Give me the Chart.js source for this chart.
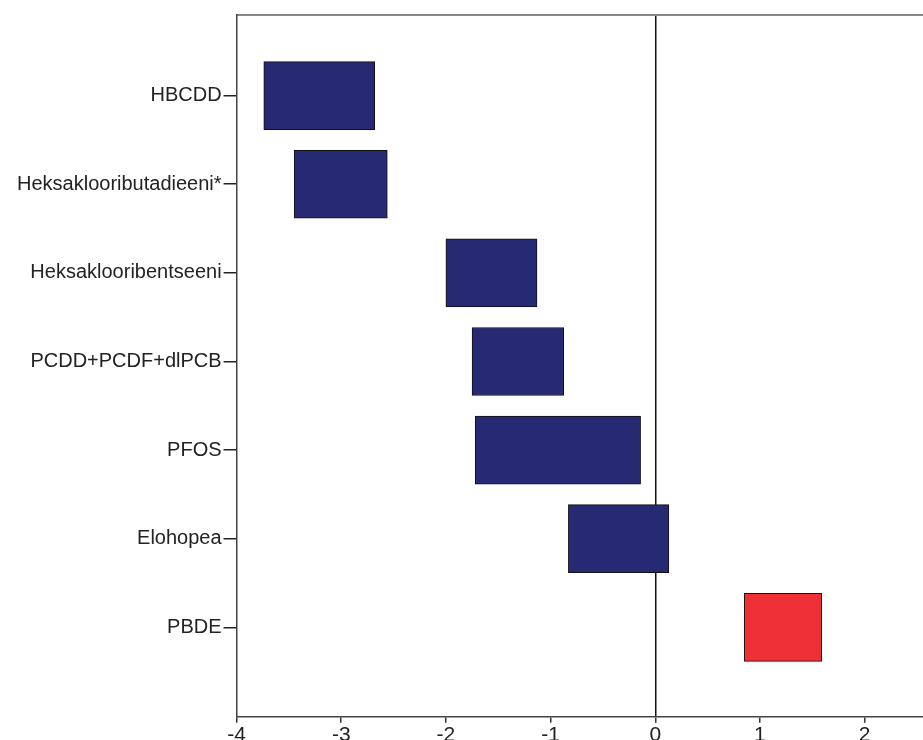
<!DOCTYPE html>
<html>
<head>
<meta charset="utf-8">
<script src="https://cdn.jsdelivr.net/npm/chart.js@4"></script>
<style>
  html, body { margin: 0; padding: 0; background: #fff; overflow: hidden; }
  #wrap { position: relative; width: 923px; height: 748px; }
</style>
</head>
<body>
<div id="wrap"><canvas id="chart"></canvas></div>
<script>
// data
const categories = ['HBCDD', 'Heksaklooributadieeni*', 'Heksaklooribentseeni', 'PCDD+PCDF+dlPCB', 'PFOS', 'Elohopea', 'PBDE'];
const lows  = [-3.74, -3.45, -2.00, -1.75, -1.72, -0.83, 0.85];
const highs = [-2.68, -2.56, -1.13, -0.875, -0.14, 0.13, 1.59];
const xTicks = [-4, -3, -2, -1, 0, 1, 2];

const navy = '#262a72';
const red = '#ee3036';

const points = categories.map((c, i) => ({ x: [lows[i], highs[i]], y: i }));

const ctx = document.getElementById('chart');
new Chart(ctx, {
    type: 'bar',
    data: {
        datasets: [{
            data: points,
            backgroundColor: c => lows[c.dataIndex] > 0 ? red : navy,
            borderColor: '#111',
            borderWidth: 1,
            borderSkipped: false,
            barThickness: 68
        }]
    },
    options: {
        indexAxis: 'y',
        responsive: true,
        maintainAspectRatio: false,
        animation: false,
        layout: { padding: { left: 15, top: 7, right: 0, bottom: 0 } },
        plugins: { legend: { display: false }, tooltip: { enabled: false } },
        scales: {
            x: {
                type: 'linear',
                min: -4,
                max: 2.558,
                afterBuildTicks: s => { s.ticks = xTicks.map(v => ({ value: v })); },
                grid: {
                    color: c => (c.tick && c.tick.value === 0) ? '#111' : 'rgba(0,0,0,0)',
                    tickColor: '#333',
                    tickLength: 6,
                    lineWidth: 1.5
                },
                border: { display: true, color: '#444', width: 1.5 },
                ticks: {
                    color: '#222',
                    padding: 0,
                    maxRotation: 0,
                    font: { family: "'Liberation Sans', Arial, sans-serif", size: 21 }
                }
            },
            xTop: {
                type: 'linear',
                position: 'top',
                min: -4,
                max: 2.558,
                grid: { display: false },
                ticks: { display: false },
                border: { display: true, color: '#888', width: 2 }
            },
            y: {
                type: 'linear',
                reverse: true,
                offset: false,
                min: -0.91,
                max: 7.01,
                afterBuildTicks: s => { s.ticks = categories.map((c, i) => ({ value: i })); },
                grid: {
                    offset: false,
                    drawOnChartArea: false,
                    drawTicks: true,
                    tickLength: 13,
                    tickColor: '#222',
                    lineWidth: 1.5
                },
                border: { display: true, color: '#444', width: 1.5 },
                ticks: {
                    color: '#222',
                    padding: 2,
                    callback: v => categories[v],
                    font: { family: "'Liberation Sans', Arial, sans-serif", size: 20 }
                }
            }
        }
    }
});
</script>
</body>
</html>
